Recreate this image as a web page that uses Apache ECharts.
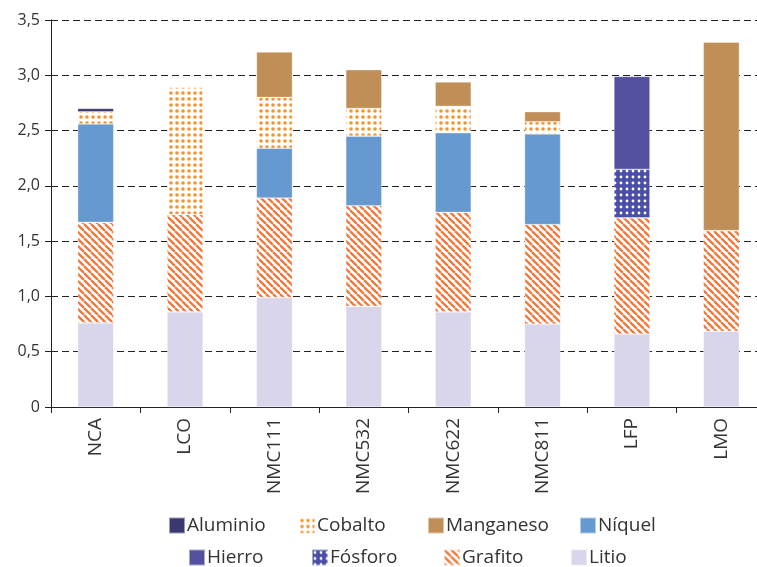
<!DOCTYPE html>
<html>
<head>
<meta charset="utf-8">
<script src="https://cdn.jsdelivr.net/npm/echarts@6/dist/echarts.min.js"></script>
<style>
  html, body { margin: 0; padding: 0; background: #fff; }
  #chart { width: 757px; height: 567px; }
</style>
</head>
<body>
<div id="chart"></div>
<script>
// categorías y valores (kg/kWh)
var categorias = ['NCA', 'LCO', 'NMC111', 'NMC532', 'NMC622', 'NMC811', 'LFP', 'LMO'];
var litio     = [0.76, 0.86, 0.99, 0.91, 0.86, 0.75, 0.66, 0.685];
var grafito   = [0.91, 0.88, 0.90, 0.91, 0.90, 0.90, 1.05, 0.91];
var fosforo   = [null, null, null, null, null, null, 0.44, null];
var hierro    = [null, null, null, null, null, null, 0.84, null];
var niquel    = [0.89, null, 0.45, 0.63, 0.72, 0.82, null, null];
var cobalto   = [0.11, 1.15, 0.46, 0.25, 0.24, 0.11, null, null];
var manganeso = [null, null, 0.41, 0.35, 0.22, 0.09, null, 1.705];
var aluminio  = [0.03, null, null, null, null, null, null, null];

// leyenda en dos filas, como en el original
var leyenda1 = ['Aluminio', 'Cobalto', 'Manganeso', 'Níquel'];
var leyenda2 = ['Hierro', 'Fósforo', 'Grafito', 'Litio'];
var leyendaX1 = [168, 298, 427, 579];
var leyendaX2 = [188, 311, 443, 570];

var fuente = '"Open Sans", "Noto Sans", sans-serif';

// patrones de relleno
function patronPuntos(fondo, punto, paso, r) {
  var c = document.createElement('canvas');
  c.width = paso; c.height = paso;
  var ctx = c.getContext('2d');
  ctx.fillStyle = fondo;
  ctx.fillRect(0, 0, paso, paso);
  ctx.fillStyle = punto;
  ctx.beginPath();
  ctx.arc(paso / 2, paso / 2, r, 0, Math.PI * 2);
  ctx.fill();
  return { image: c, repeat: 'repeat' };
}

function patronRayas(fondo, raya, paso, ancho) {
  var c = document.createElement('canvas');
  c.width = paso; c.height = paso;
  var ctx = c.getContext('2d');
  ctx.fillStyle = fondo;
  ctx.fillRect(0, 0, paso, paso);
  ctx.strokeStyle = raya;
  ctx.lineWidth = ancho;
  ctx.beginPath();
  for (var k = -1; k <= 1; k++) {
    ctx.moveTo(k * paso, 0);
    ctx.lineTo(k * paso + paso, paso);
  }
  ctx.stroke();
  return { image: c, repeat: 'repeat' };
}

var colCobalto = patronPuntos('#ffffff', '#f7922a', 6, 1.8);
var colFosforo = patronPuntos('#4a4ea6', '#ffffff', 6, 1.4);
var colGrafito = patronRayas('#ffffff', '#f0783c', 7, 2.3);

function serie(nombre, datos, color) {
  return {
    name: nombre,
    type: 'bar',
    stack: 'total',
    barWidth: 36,
    data: datos,
    itemStyle: { color: color, borderColor: 'rgba(255,255,255,0.5)', borderWidth: 0.6 }
  };
}

function leyenda(nombre, x, y) {
  return {
    data: [nombre], left: x, top: y, padding: 0,
    itemWidth: 16, itemHeight: 16, icon: 'rect',
    textStyle: { fontSize: 19, color: '#333', fontFamily: fuente, padding: [0, 0, 0, -3] }
  };
}

var leyendas = [];
leyenda1.forEach(function (n, i) { leyendas.push(leyenda(n, leyendaX1[i], 516)); });
leyenda2.forEach(function (n, i) { leyendas.push(leyenda(n, leyendaX2[i], 548)); });

var chart = echarts.init(document.getElementById('chart'));

chart.setOption({
  animation: false,
  textStyle: { fontFamily: fuente },
  grid: { left: 51, top: 20, width: 715, height: 387, containLabel: false, outerBoundsMode: 'none' },
  legend: leyendas,
  xAxis: {
    type: 'category',
    data: categorias,
    axisLine: { lineStyle: { color: '#222', width: 1 } },
    axisTick: { show: true, length: 6, lineStyle: { color: '#222' } },
    axisLabel: { rotate: 90, fontSize: 19, color: '#333', margin: 11, fontFamily: fuente }
  },
  yAxis: {
    type: 'value',
    min: 0, max: 3.5, interval: 0.5,
    axisLine: { show: true, lineStyle: { color: '#222', width: 1 } },
    axisTick: { show: true, length: 6, lineStyle: { color: '#222' } },
    axisLabel: {
      fontSize: 16, color: '#333', margin: 11, fontFamily: fuente,
      formatter: function (v) { return v === 0 ? '0' : v.toFixed(1).replace('.', ','); }
    },
    splitLine: { lineStyle: { color: '#222', type: [7, 4], width: 1 } }
  },
  series: [
    serie('Litio', litio, '#d9d5ea'),
    serie('Grafito', grafito, colGrafito),
    serie('Fósforo', fosforo, colFosforo),
    serie('Hierro', hierro, '#5350a0'),
    serie('Níquel', niquel, '#6699d0'),
    serie('Cobalto', cobalto, colCobalto),
    serie('Manganeso', manganeso, '#c08f58'),
    serie('Aluminio', aluminio, '#3a396f')
  ]
});
</script>
</body>
</html>
